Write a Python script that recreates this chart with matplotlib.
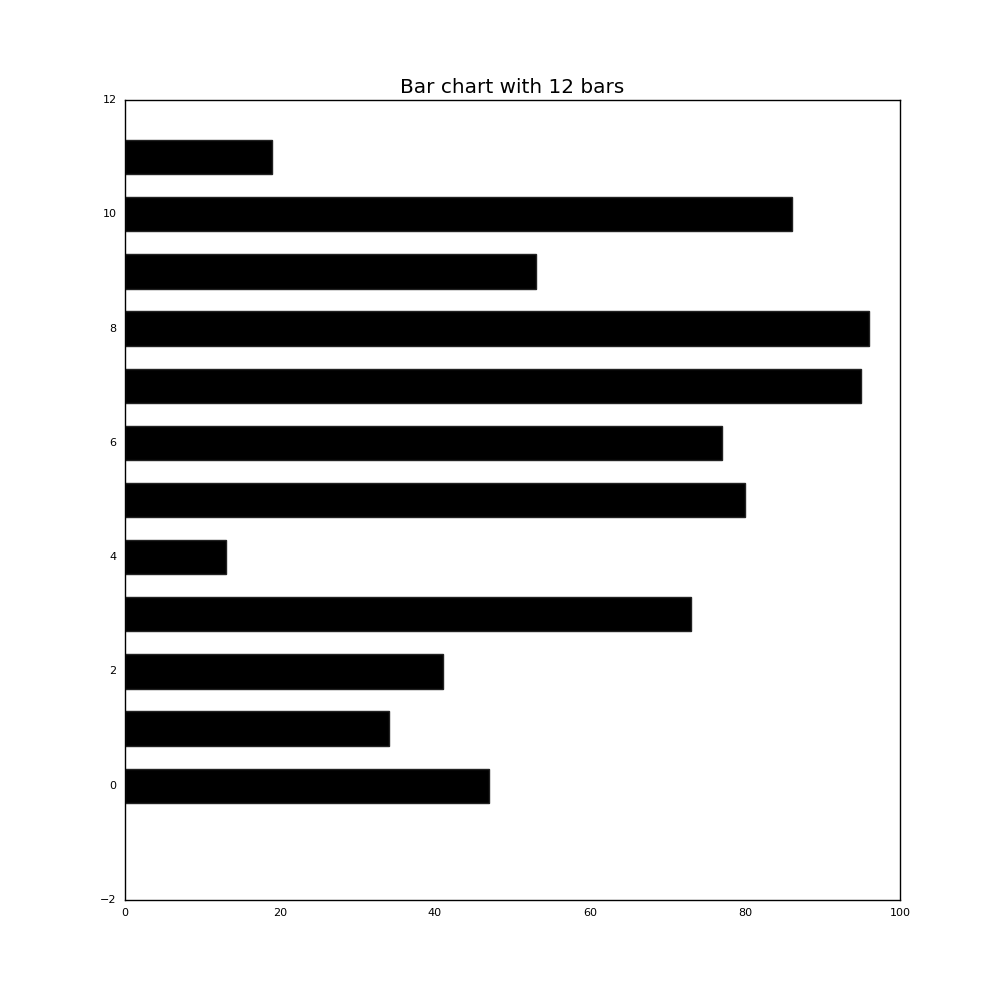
import matplotlib
matplotlib.use('Agg')
from matplotlib import pyplot as plt

positions = [0, 1, 2, 3, 4, 5, 6, 7, 8, 9, 10, 11]
values = [47, 34, 41, 73, 13, 80, 77, 95, 96, 53, 86, 19]

plt.style.use('classic')
fig = plt.figure(figsize=(10, 10), dpi=100)
ax = fig.add_subplot(111)
ax.barh(positions, values, height=0.6, align='center', color='black', edgecolor='#222222')
ax.set_xlim(0, 100)
ax.set_ylim(-2, 12)
ax.set_title('Bar chart with 12 bars', fontsize=14.4)
ax.tick_params(length=0, labelsize=8)
ax.tick_params(axis='y', pad=6)
ax.tick_params(axis='x', pad=6)

fig.savefig('out.png', dpi=100)
